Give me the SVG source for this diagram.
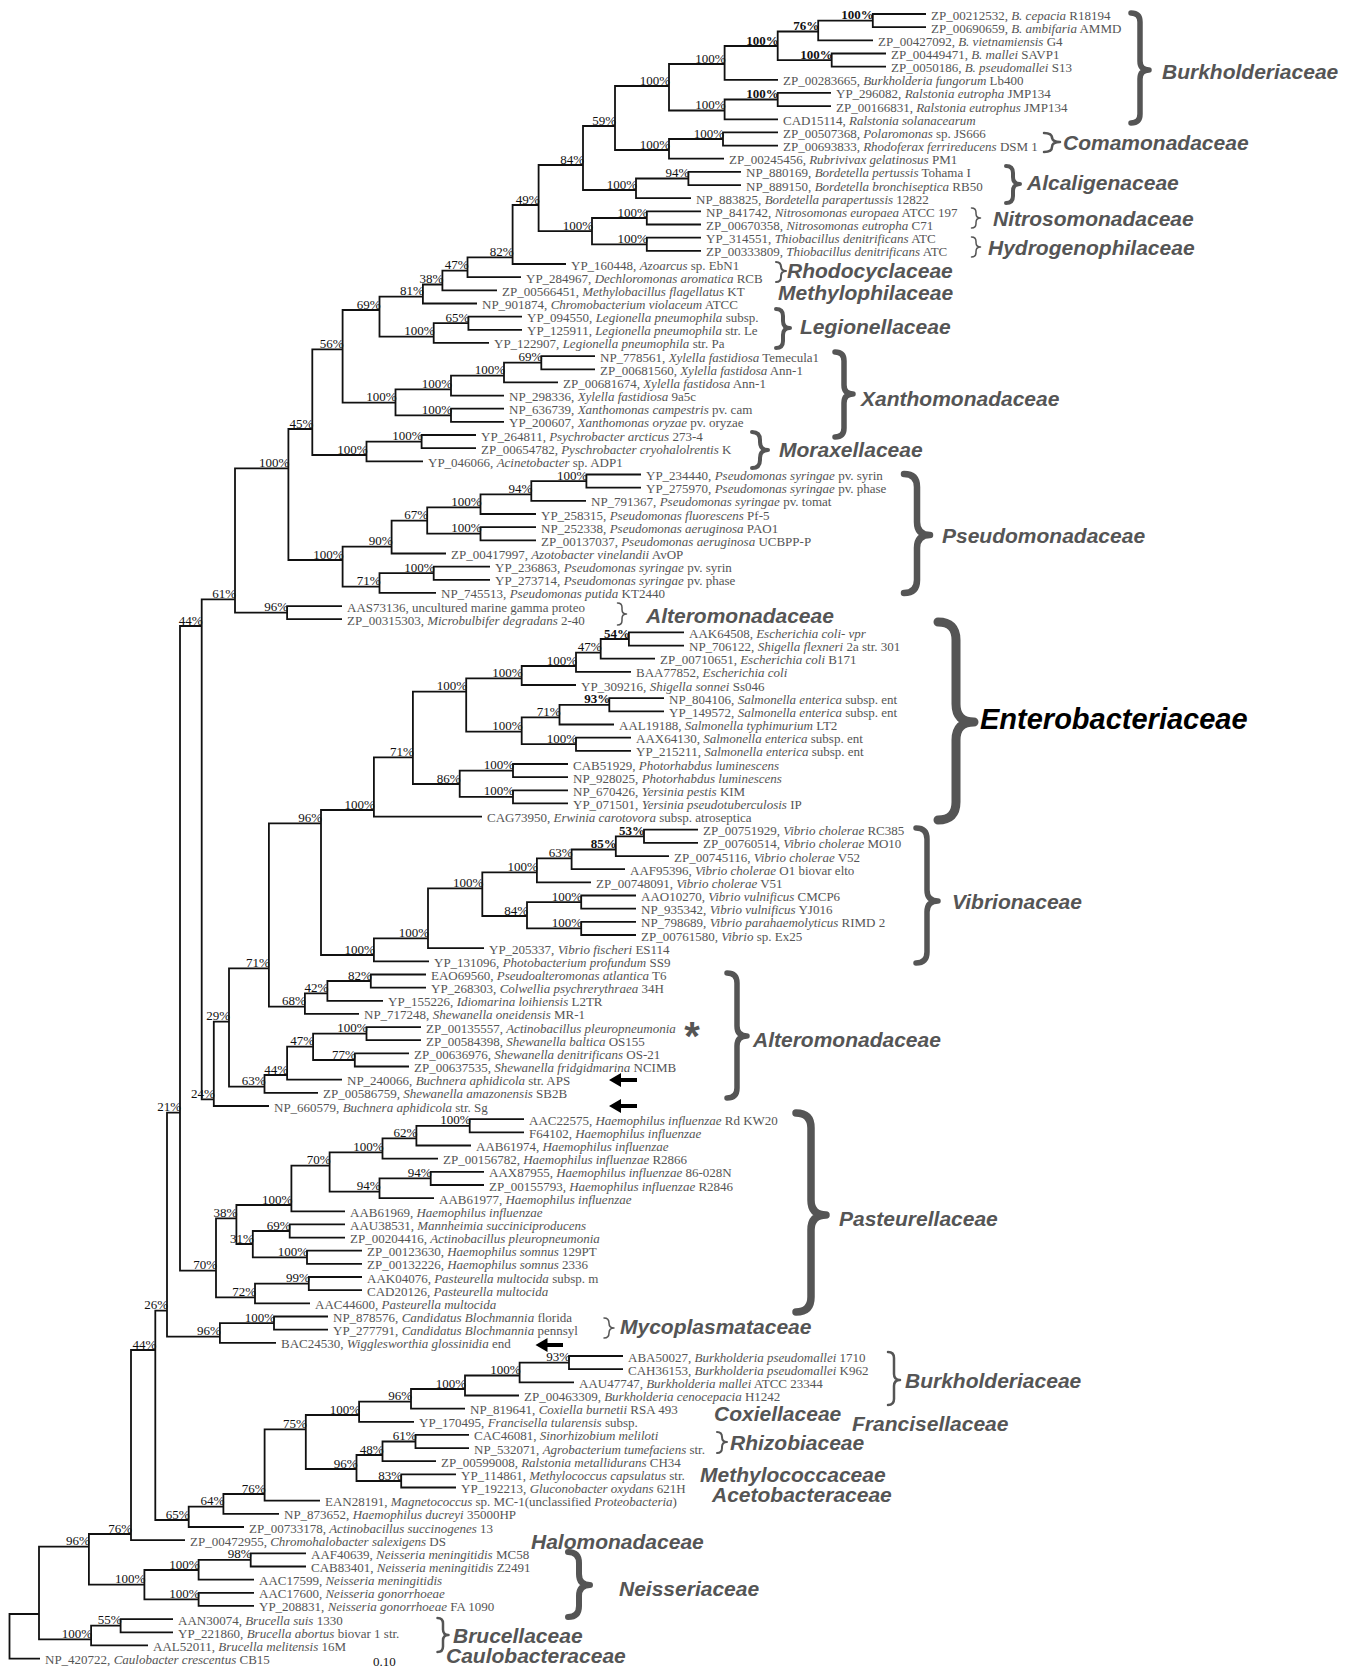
<svg xmlns="http://www.w3.org/2000/svg" width="1357" height="1669" viewBox="0 0 1357 1669">
<style>
.br{fill:none;stroke:#111;stroke-width:1.8}
.lf{font-family:"Liberation Serif","Times New Roman",serif;font-size:13px;fill:#555}
.bs{font-family:"Liberation Serif","Times New Roman",serif;font-size:13px;fill:#111;text-anchor:end}
.bb{font-weight:bold}
.fam{font-family:"Liberation Sans",Arial,sans-serif;font-weight:bold;font-style:italic;font-size:21px;fill:#555}
.brace{fill:none;stroke:#555;stroke-linecap:round;stroke-linejoin:round}
.arr{fill:#000}
</style>
<rect width="1357" height="1669" fill="#fff"/>
<g id="connectors">
<path class="br" d="M926 14 H872.8 V27.2 H926"/>
<path class="br" d="M872.8 20.6 H818.2 V40.3 H873"/>
<path class="br" d="M886 53.5 H831.7 V66.6 H886"/>
<path class="br" d="M818.2 31.5 H777.7 V60.1 H831.7"/>
<path class="br" d="M777.7 46 H724.6 V79.8 H778"/>
<path class="br" d="M831 92.9 H777.7 V106.1 H831"/>
<path class="br" d="M777.7 99.5 H724.6 V119.3 H778"/>
<path class="br" d="M724.6 64 H669 V110.5 H724.6"/>
<path class="br" d="M778 132.4 H723 V145.6 H778"/>
<path class="br" d="M723 139 H669 V158.7 H724"/>
<path class="br" d="M669 86 H615 V150 H669"/>
<path class="br" d="M741 171.9 H688.4 V185.1 H741"/>
<path class="br" d="M688.4 178.5 H636 V198.2 H691"/>
<path class="br" d="M615 126 H583 V190 H636"/>
<path class="br" d="M701 211.4 H646.8 V224.5 H701"/>
<path class="br" d="M701 237.7 H646.8 V250.8 H701"/>
<path class="br" d="M646.8 218 H592 V244.3 H646.8"/>
<path class="br" d="M583 165 H538.6 V231.2 H592"/>
<path class="br" d="M538.6 205 H512.6 V264 H566"/>
<path class="br" d="M512.6 257.3 H467.5 V277.2 H521"/>
<path class="br" d="M467.5 270.7 H442.4 V290.3 H497"/>
<path class="br" d="M442.4 284.5 H422.9 V303.5 H477"/>
<path class="br" d="M522 316.6 H468.4 V329.8 H522"/>
<path class="br" d="M468.4 323.2 H433.7 V342.9 H489"/>
<path class="br" d="M422.9 296.7 H379.5 V336.7 H433.7"/>
<path class="br" d="M595 356.1 H541.3 V369.3 H595"/>
<path class="br" d="M541.3 362.7 H504 V382.4 H558"/>
<path class="br" d="M504 375.7 H451 V395.6 H504"/>
<path class="br" d="M504 408.7 H451 V421.9 H504"/>
<path class="br" d="M451 389.3 H395.5 V415.3 H451"/>
<path class="br" d="M379.5 310 H342.6 V402.7 H395.5"/>
<path class="br" d="M476 435 H421.6 V448.2 H476"/>
<path class="br" d="M421.6 441.6 H366.5 V461.4 H423"/>
<path class="br" d="M342.6 349.3 H312.3 V455 H366.5"/>
<path class="br" d="M641 474.5 H586.4 V487.7 H641"/>
<path class="br" d="M586.4 481.1 H531.3 V500.8 H586"/>
<path class="br" d="M531.3 494.3 H480.5 V514 H536"/>
<path class="br" d="M536 527.1 H480.5 V540.3 H536"/>
<path class="br" d="M480.5 507.3 H427.2 V533.7 H480.5"/>
<path class="br" d="M427.2 520.7 H391.6 V553.5 H446"/>
<path class="br" d="M490 566.6 H433.7 V579.8 H490"/>
<path class="br" d="M433.7 573.2 H379.5 V592.9 H436"/>
<path class="br" d="M391.6 546.7 H342.6 V586.7 H379.5"/>
<path class="br" d="M312.3 429 H288.4 V560 H342.6"/>
<path class="br" d="M342 606.1 H287.1 V619.2 H342"/>
<path class="br" d="M288.4 468.3 H235 V612.7 H287.1"/>
<path class="br" d="M235 599.3 H201.7 V1099.3 H213.8"/>
<path class="br" d="M684 632.4 H628.9 V645.6 H684"/>
<path class="br" d="M628.9 639 H600.7 V658.7 H655"/>
<path class="br" d="M600.7 652.7 H576 V671.9 H631"/>
<path class="br" d="M576 666 H521.7 V685 H576"/>
<path class="br" d="M664 698.2 H609.3 V711.3 H664"/>
<path class="br" d="M609.3 704.8 H559.5 V724.5 H614"/>
<path class="br" d="M631 737.6 H576 V750.8 H631"/>
<path class="br" d="M559.5 717.3 H521.7 V744.2 H576"/>
<path class="br" d="M521.7 678.3 H466.2 V731.7 H521.7"/>
<path class="br" d="M568 764 H513 V777.1 H568"/>
<path class="br" d="M568 790.3 H513 V803.4 H568"/>
<path class="br" d="M513 770.6 H459.7 V796.9 H513"/>
<path class="br" d="M466.2 691.7 H412.9 V784 H459.7"/>
<path class="br" d="M412.9 757.3 H373.9 V816.6 H482"/>
<path class="br" d="M698 829.7 H644 V842.9 H698"/>
<path class="br" d="M644 836.3 H615.8 V856.1 H669"/>
<path class="br" d="M615.8 849.5 H571.6 V869.2 H625"/>
<path class="br" d="M571.6 858.3 H536.9 V882.4 H591"/>
<path class="br" d="M636 895.5 H581.2 V908.7 H636"/>
<path class="br" d="M636 921.8 H581.2 V935 H636"/>
<path class="br" d="M581.2 902.1 H527 V928.4 H581.2"/>
<path class="br" d="M536.9 872.3 H482.3 V916 H527"/>
<path class="br" d="M482.3 888.3 H428 V948.1 H484"/>
<path class="br" d="M428 938.3 H373.9 V961.3 H429"/>
<path class="br" d="M373.9 810 H321 V955 H373.9"/>
<path class="br" d="M426 974.5 H370.8 V987.6 H426"/>
<path class="br" d="M370.8 981 H327.4 V1000.8 H383"/>
<path class="br" d="M327.4 993.3 H304.9 V1013.9 H359"/>
<path class="br" d="M321 823.3 H268.9 V1006.7 H304.9"/>
<path class="br" d="M421 1027.1 H366.5 V1040.2 H421"/>
<path class="br" d="M409 1053.4 H354.8 V1066.5 H409"/>
<path class="br" d="M366.5 1033.7 H313.1 V1060 H354.8"/>
<path class="br" d="M313.1 1046.7 H287.1 V1079.7 H342"/>
<path class="br" d="M287.1 1075 H264.5 V1092.9 H318"/>
<path class="br" d="M268.9 968.3 H229 V1086.7 H264.5"/>
<path class="br" d="M229 1021.7 H213.8 V1106 H269"/>
<path class="br" d="M524 1119.2 H469.7 V1132.3 H524"/>
<path class="br" d="M469.7 1125.8 H416.4 V1145.5 H471"/>
<path class="br" d="M416.4 1138.3 H382.5 V1158.6 H438"/>
<path class="br" d="M484 1171.8 H430.7 V1185 H484"/>
<path class="br" d="M430.7 1178.4 H379.5 V1198.1 H434"/>
<path class="br" d="M382.5 1152.3 H329.6 V1191.7 H379.5"/>
<path class="br" d="M329.6 1165.7 H291.4 V1211.3 H345"/>
<path class="br" d="M345 1224.4 H289.7 V1237.6 H345"/>
<path class="br" d="M362 1250.7 H307 V1263.9 H362"/>
<path class="br" d="M289.7 1231 H252.8 V1257.3 H307"/>
<path class="br" d="M291.4 1205 H236.4 V1244 H252.8"/>
<path class="br" d="M362 1277 H308.8 V1290.2 H362"/>
<path class="br" d="M308.8 1283.6 H255 V1303.4 H310"/>
<path class="br" d="M236.4 1218.3 H216 V1297.3 H255"/>
<path class="br" d="M201.7 626 H180 V1270.7 H216"/>
<path class="br" d="M328 1316.5 H274 V1329.7 H328"/>
<path class="br" d="M274 1323.1 H219.9 V1342.8 H276"/>
<path class="br" d="M180 1112.7 H167 V1336.7 H219.9"/>
<path class="br" d="M623 1356 H569 V1369.1 H623"/>
<path class="br" d="M569 1362.6 H519.6 V1382.3 H574"/>
<path class="br" d="M519.6 1375.5 H465 V1395.5 H519"/>
<path class="br" d="M465 1389 H411 V1408.6 H465"/>
<path class="br" d="M411 1401.7 H359.1 V1421.8 H414"/>
<path class="br" d="M469 1434.9 H415.5 V1448.1 H469"/>
<path class="br" d="M415.5 1441.5 H382.5 V1461.2 H436"/>
<path class="br" d="M456 1474.4 H401.2 V1487.5 H456"/>
<path class="br" d="M382.5 1455 H356.5 V1481 H401.2"/>
<path class="br" d="M359.1 1415 H305.8 V1469 H356.5"/>
<path class="br" d="M305.8 1429.3 H264.6 V1500.7 H320"/>
<path class="br" d="M264.6 1494 H223.4 V1513.9 H279"/>
<path class="br" d="M223.4 1506.7 H188.7 V1527 H244"/>
<path class="br" d="M167 1310.7 H155.3 V1520 H188.7"/>
<path class="br" d="M155.3 1350 H131 V1540.2 H185"/>
<path class="br" d="M306 1553.3 H250.7 V1566.5 H306"/>
<path class="br" d="M250.7 1559.9 H198.6 V1579.6 H254"/>
<path class="br" d="M254 1592.8 H198.6 V1605.9 H254"/>
<path class="br" d="M198.6 1570 H144.4 V1599.4 H198.6"/>
<path class="br" d="M131 1534 H88.9 V1584.7 H144.4"/>
<path class="br" d="M173 1619.1 H120.6 V1632.3 H173"/>
<path class="br" d="M120.6 1625.7 H91.1 V1645.4 H148"/>
<path class="br" d="M88.9 1546.7 H39 V1639.3 H91.1"/>
<path class="br" d="M39 1614 H9.5 V1658.6 H40"/>
</g>
<g id="bootstrap">
<text class="bs bb" x="873.8" y="19.1">100%</text>
<text class="bs bb" x="819.2" y="30">76%</text>
<text class="bs bb" x="832.7" y="58.6">100%</text>
<text class="bs bb" x="778.7" y="44.5">100%</text>
<text class="bs" x="725.6" y="62.5">100%</text>
<text class="bs bb" x="778.7" y="98">100%</text>
<text class="bs" x="725.6" y="109">100%</text>
<text class="bs" x="670" y="84.5">100%</text>
<text class="bs" x="724" y="137.5">100%</text>
<text class="bs" x="670" y="148.5">100%</text>
<text class="bs" x="616" y="124.5">59%</text>
<text class="bs" x="689.4" y="177">94%</text>
<text class="bs" x="637" y="188.5">100%</text>
<text class="bs" x="584" y="163.5">84%</text>
<text class="bs" x="647.8" y="216.5">100%</text>
<text class="bs" x="647.8" y="242.8">100%</text>
<text class="bs" x="593" y="229.7">100%</text>
<text class="bs" x="539.6" y="203.5">49%</text>
<text class="bs" x="513.6" y="255.8">82%</text>
<text class="bs" x="468.5" y="269.2">47%</text>
<text class="bs" x="443.4" y="283">38%</text>
<text class="bs" x="423.9" y="295.2">81%</text>
<text class="bs" x="469.4" y="321.7">65%</text>
<text class="bs" x="434.7" y="335.2">100%</text>
<text class="bs" x="380.5" y="308.5">69%</text>
<text class="bs" x="542.3" y="361.2">69%</text>
<text class="bs" x="505" y="374.2">100%</text>
<text class="bs" x="452" y="387.8">100%</text>
<text class="bs" x="452" y="413.8">100%</text>
<text class="bs" x="396.5" y="401.2">100%</text>
<text class="bs" x="343.6" y="347.8">56%</text>
<text class="bs" x="422.6" y="440.1">100%</text>
<text class="bs" x="367.5" y="453.5">100%</text>
<text class="bs" x="313.3" y="427.5">45%</text>
<text class="bs" x="587.4" y="479.6">100%</text>
<text class="bs" x="532.3" y="492.8">94%</text>
<text class="bs" x="481.5" y="505.8">100%</text>
<text class="bs" x="481.5" y="532.2">100%</text>
<text class="bs" x="428.2" y="519.2">67%</text>
<text class="bs" x="392.6" y="545.2">90%</text>
<text class="bs" x="434.7" y="571.7">100%</text>
<text class="bs" x="380.5" y="585.2">71%</text>
<text class="bs" x="343.6" y="558.5">100%</text>
<text class="bs" x="289.4" y="466.8">100%</text>
<text class="bs" x="288.1" y="611.2">96%</text>
<text class="bs" x="236" y="597.8">61%</text>
<text class="bs" x="202.7" y="624.5">44%</text>
<text class="bs bb" x="629.9" y="637.5">54%</text>
<text class="bs" x="601.7" y="651.2">47%</text>
<text class="bs" x="577" y="664.5">100%</text>
<text class="bs" x="522.7" y="676.8">100%</text>
<text class="bs bb" x="610.3" y="703.3">93%</text>
<text class="bs" x="560.5" y="715.8">71%</text>
<text class="bs" x="577" y="742.7">100%</text>
<text class="bs" x="522.7" y="730.2">100%</text>
<text class="bs" x="467.2" y="690.2">100%</text>
<text class="bs" x="514" y="769.1">100%</text>
<text class="bs" x="514" y="795.4">100%</text>
<text class="bs" x="460.7" y="782.5">86%</text>
<text class="bs" x="413.9" y="755.8">71%</text>
<text class="bs" x="374.9" y="808.5">100%</text>
<text class="bs bb" x="645" y="834.8">53%</text>
<text class="bs bb" x="616.8" y="848">85%</text>
<text class="bs" x="572.6" y="856.8">63%</text>
<text class="bs" x="537.9" y="870.8">100%</text>
<text class="bs" x="582.2" y="900.6">100%</text>
<text class="bs" x="582.2" y="926.9">100%</text>
<text class="bs" x="528" y="914.5">84%</text>
<text class="bs" x="483.3" y="886.8">100%</text>
<text class="bs" x="429" y="936.8">100%</text>
<text class="bs" x="374.9" y="953.5">100%</text>
<text class="bs" x="322" y="821.8">96%</text>
<text class="bs" x="371.8" y="979.5">82%</text>
<text class="bs" x="328.4" y="991.8">42%</text>
<text class="bs" x="305.9" y="1005.2">68%</text>
<text class="bs" x="269.9" y="966.8">71%</text>
<text class="bs" x="367.5" y="1032.2">100%</text>
<text class="bs" x="355.8" y="1058.5">77%</text>
<text class="bs" x="314.1" y="1045.2">47%</text>
<text class="bs" x="288.1" y="1073.5">44%</text>
<text class="bs" x="265.5" y="1085.2">63%</text>
<text class="bs" x="230" y="1020.2">29%</text>
<text class="bs" x="214.8" y="1097.8">24%</text>
<text class="bs" x="470.7" y="1124.3">100%</text>
<text class="bs" x="417.4" y="1136.8">62%</text>
<text class="bs" x="383.5" y="1150.8">100%</text>
<text class="bs" x="431.7" y="1176.9">94%</text>
<text class="bs" x="380.5" y="1190.2">94%</text>
<text class="bs" x="330.6" y="1164.2">70%</text>
<text class="bs" x="292.4" y="1203.5">100%</text>
<text class="bs" x="290.7" y="1229.5">69%</text>
<text class="bs" x="308" y="1255.8">100%</text>
<text class="bs" x="253.8" y="1242.5">31%</text>
<text class="bs" x="237.4" y="1216.8">38%</text>
<text class="bs" x="309.8" y="1282.1">99%</text>
<text class="bs" x="256" y="1295.8">72%</text>
<text class="bs" x="217" y="1269.2">70%</text>
<text class="bs" x="181" y="1111.2">21%</text>
<text class="bs" x="275" y="1321.6">100%</text>
<text class="bs" x="220.9" y="1335.2">96%</text>
<text class="bs" x="168" y="1309.2">26%</text>
<text class="bs" x="570" y="1361.1">93%</text>
<text class="bs" x="520.6" y="1374">100%</text>
<text class="bs" x="466" y="1387.5">100%</text>
<text class="bs" x="412" y="1400.2">96%</text>
<text class="bs" x="360.1" y="1413.5">100%</text>
<text class="bs" x="416.5" y="1440">61%</text>
<text class="bs" x="383.5" y="1453.5">48%</text>
<text class="bs" x="402.2" y="1479.5">83%</text>
<text class="bs" x="357.5" y="1467.5">96%</text>
<text class="bs" x="306.8" y="1427.8">75%</text>
<text class="bs" x="265.6" y="1492.5">76%</text>
<text class="bs" x="224.4" y="1505.2">64%</text>
<text class="bs" x="189.7" y="1518.5">65%</text>
<text class="bs" x="156.3" y="1348.5">44%</text>
<text class="bs" x="132" y="1532.5">76%</text>
<text class="bs" x="251.7" y="1558.4">98%</text>
<text class="bs" x="199.6" y="1568.5">100%</text>
<text class="bs" x="199.6" y="1597.9">100%</text>
<text class="bs" x="145.4" y="1583.2">100%</text>
<text class="bs" x="89.9" y="1545.2">96%</text>
<text class="bs" x="121.6" y="1624.2">55%</text>
<text class="bs" x="92.1" y="1637.8">100%</text>
</g>
<g id="leaves">
<g id="leaf-1"><text class="lf" x="931" y="19.5">ZP_00212532, <tspan font-style="italic">B. cepacia</tspan> R18194</text></g>
<g id="leaf-2"><text class="lf" x="931" y="32.7">ZP_00690659, <tspan font-style="italic">B. ambifaria</tspan> AMMD</text></g>
<g id="leaf-3"><text class="lf" x="878" y="45.8">ZP_00427092, <tspan font-style="italic">B. vietnamiensis</tspan> G4</text></g>
<g id="leaf-4"><text class="lf" x="891" y="59">ZP_00449471, <tspan font-style="italic">B. mallei</tspan> SAVP1</text></g>
<g id="leaf-5"><text class="lf" x="891" y="72.1">ZP_0050186, <tspan font-style="italic">B. pseudomallei</tspan> S13</text></g>
<g id="leaf-6"><text class="lf" x="783" y="85.3">ZP_00283665, <tspan font-style="italic">Burkholderia fungorum</tspan> Lb400</text></g>
<g id="leaf-7"><text class="lf" x="836" y="98.4">YP_296082, <tspan font-style="italic">Ralstonia eutropha</tspan> JMP134</text></g>
<g id="leaf-8"><text class="lf" x="836" y="111.6">ZP_00166831, <tspan font-style="italic">Ralstonia eutrophus</tspan> JMP134</text></g>
<g id="leaf-9"><text class="lf" x="783" y="124.8">CAD15114, <tspan font-style="italic">Ralstonia solanacearum</tspan></text></g>
<g id="leaf-10"><text class="lf" x="783" y="137.9">ZP_00507368, <tspan font-style="italic">Polaromonas</tspan> sp. JS666</text></g>
<g id="leaf-11"><text class="lf" x="783" y="151.1">ZP_00693833, <tspan font-style="italic">Rhodoferax ferrireducens</tspan> DSM 1</text></g>
<g id="leaf-12"><text class="lf" x="729" y="164.2">ZP_00245456, <tspan font-style="italic">Rubrivivax gelatinosus</tspan> PM1</text></g>
<g id="leaf-13"><text class="lf" x="746" y="177.4">NP_880169, <tspan font-style="italic">Bordetella pertussis</tspan> Tohama I</text></g>
<g id="leaf-14"><text class="lf" x="746" y="190.6">NP_889150, <tspan font-style="italic">Bordetella bronchiseptica</tspan> RB50</text></g>
<g id="leaf-15"><text class="lf" x="696" y="203.7">NP_883825, <tspan font-style="italic">Bordetella parapertussis</tspan> 12822</text></g>
<g id="leaf-16"><text class="lf" x="706" y="216.9">NP_841742, <tspan font-style="italic">Nitrosomonas europaea</tspan> ATCC 197</text></g>
<g id="leaf-17"><text class="lf" x="706" y="230">ZP_00670358, <tspan font-style="italic">Nitrosomonas eutropha</tspan> C71</text></g>
<g id="leaf-18"><text class="lf" x="706" y="243.2">YP_314551, <tspan font-style="italic">Thiobacillus denitrificans</tspan> ATC</text></g>
<g id="leaf-19"><text class="lf" x="706" y="256.3">ZP_00333809, <tspan font-style="italic">Thiobacillus denitrificans</tspan> ATC</text></g>
<g id="leaf-20"><text class="lf" x="571" y="269.5">YP_160448, <tspan font-style="italic">Azoarcus</tspan> sp. EbN1</text></g>
<g id="leaf-21"><text class="lf" x="526" y="282.7">YP_284967, <tspan font-style="italic">Dechloromonas aromatica</tspan> RCB</text></g>
<g id="leaf-22"><text class="lf" x="502" y="295.8">ZP_00566451, <tspan font-style="italic">Methylobacillus flagellatus</tspan> KT</text></g>
<g id="leaf-23"><text class="lf" x="482" y="309">NP_901874, <tspan font-style="italic">Chromobacterium violaceum</tspan> ATCC</text></g>
<g id="leaf-24"><text class="lf" x="527" y="322.1">YP_094550, <tspan font-style="italic">Legionella pneumophila</tspan> subsp.</text></g>
<g id="leaf-25"><text class="lf" x="527" y="335.3">YP_125911, <tspan font-style="italic">Legionella pneumophila</tspan> str. Le</text></g>
<g id="leaf-26"><text class="lf" x="494" y="348.4">YP_122907, <tspan font-style="italic">Legionella pneumophila</tspan> str. Pa</text></g>
<g id="leaf-27"><text class="lf" x="600" y="361.6">NP_778561, <tspan font-style="italic">Xylella fastidiosa</tspan> Temecula1</text></g>
<g id="leaf-28"><text class="lf" x="600" y="374.8">ZP_00681560, <tspan font-style="italic">Xylella fastidosa</tspan> Ann-1</text></g>
<g id="leaf-29"><text class="lf" x="563" y="387.9">ZP_00681674, <tspan font-style="italic">Xylella fastidosa</tspan> Ann-1</text></g>
<g id="leaf-30"><text class="lf" x="509" y="401.1">NP_298336, <tspan font-style="italic">Xylella fastidiosa</tspan> 9a5c</text></g>
<g id="leaf-31"><text class="lf" x="509" y="414.2">NP_636739, <tspan font-style="italic">Xanthomonas campestris</tspan> pv. cam</text></g>
<g id="leaf-32"><text class="lf" x="509" y="427.4">YP_200607, <tspan font-style="italic">Xanthomonas oryzae</tspan> pv. oryzae</text></g>
<g id="leaf-33"><text class="lf" x="481" y="440.5">YP_264811, <tspan font-style="italic">Psychrobacter arcticus</tspan> 273-4</text></g>
<g id="leaf-34"><text class="lf" x="481" y="453.7">ZP_00654782, <tspan font-style="italic">Pyschrobacter cryohalolrentis</tspan> K</text></g>
<g id="leaf-35"><text class="lf" x="428" y="466.9">YP_046066, <tspan font-style="italic">Acinetobacter</tspan> sp. ADP1</text></g>
<g id="leaf-36"><text class="lf" x="646" y="480">YP_234440, <tspan font-style="italic">Pseudomonas syringae</tspan> pv. syrin</text></g>
<g id="leaf-37"><text class="lf" x="646" y="493.2">YP_275970, <tspan font-style="italic">Pseudomonas syringae</tspan> pv. phase</text></g>
<g id="leaf-38"><text class="lf" x="591" y="506.3">NP_791367, <tspan font-style="italic">Pseudomonas syringae</tspan> pv. tomat</text></g>
<g id="leaf-39"><text class="lf" x="541" y="519.5">YP_258315, <tspan font-style="italic">Pseudomonas fluorescens</tspan> Pf-5</text></g>
<g id="leaf-40"><text class="lf" x="541" y="532.6">NP_252338, <tspan font-style="italic">Pseudomonas aeruginosa</tspan> PAO1</text></g>
<g id="leaf-41"><text class="lf" x="541" y="545.8">ZP_00137037, <tspan font-style="italic">Pseudomonas aeruginosa</tspan> UCBPP-P</text></g>
<g id="leaf-42"><text class="lf" x="451" y="559">ZP_00417997, <tspan font-style="italic">Azotobacter vinelandii</tspan> AvOP</text></g>
<g id="leaf-43"><text class="lf" x="495" y="572.1">YP_236863, <tspan font-style="italic">Pseudomonas syringae</tspan> pv. syrin</text></g>
<g id="leaf-44"><text class="lf" x="495" y="585.3">YP_273714, <tspan font-style="italic">Pseudomonas syringae</tspan> pv. phase</text></g>
<g id="leaf-45"><text class="lf" x="441" y="598.4">NP_745513, <tspan font-style="italic">Pseudomonas putida</tspan> KT2440</text></g>
<g id="leaf-46"><text class="lf" x="347" y="611.6">AAS73136, uncultured marine gamma proteo</text></g>
<g id="leaf-47"><text class="lf" x="347" y="624.7">ZP_00315303, <tspan font-style="italic">Microbulbifer degradans</tspan> 2-40</text></g>
<g id="leaf-48"><text class="lf" x="689" y="637.9">AAK64508, <tspan font-style="italic">Escherichia coli- vpr</tspan></text></g>
<g id="leaf-49"><text class="lf" x="689" y="651.1">NP_706122, <tspan font-style="italic">Shigella flexneri</tspan> 2a str. 301</text></g>
<g id="leaf-50"><text class="lf" x="660" y="664.2">ZP_00710651, <tspan font-style="italic">Escherichia coli</tspan> B171</text></g>
<g id="leaf-51"><text class="lf" x="636" y="677.4">BAA77852, <tspan font-style="italic">Escherichia coli</tspan></text></g>
<g id="leaf-52"><text class="lf" x="581" y="690.5">YP_309216, <tspan font-style="italic">Shigella sonnei</tspan> Ss046</text></g>
<g id="leaf-53"><text class="lf" x="669" y="703.7">NP_804106, <tspan font-style="italic">Salmonella enterica</tspan> subsp. ent</text></g>
<g id="leaf-54"><text class="lf" x="669" y="716.8">YP_149572, <tspan font-style="italic">Salmonella enterica</tspan> subsp. ent</text></g>
<g id="leaf-55"><text class="lf" x="619" y="730">AAL19188, <tspan font-style="italic">Salmonella typhimurium</tspan> LT2</text></g>
<g id="leaf-56"><text class="lf" x="636" y="743.1">AAX64130, <tspan font-style="italic">Salmonella enterica</tspan> subsp. ent</text></g>
<g id="leaf-57"><text class="lf" x="636" y="756.3">YP_215211, <tspan font-style="italic">Salmonella enterica</tspan> subsp. ent</text></g>
<g id="leaf-58"><text class="lf" x="573" y="769.5">CAB51929, <tspan font-style="italic">Photorhabdus luminescens</tspan></text></g>
<g id="leaf-59"><text class="lf" x="573" y="782.6">NP_928025, <tspan font-style="italic">Photorhabdus luminescens</tspan></text></g>
<g id="leaf-60"><text class="lf" x="573" y="795.8">NP_670426, <tspan font-style="italic">Yersinia pestis</tspan> KIM</text></g>
<g id="leaf-61"><text class="lf" x="573" y="808.9">YP_071501, <tspan font-style="italic">Yersinia pseudotuberculosis</tspan> IP</text></g>
<g id="leaf-62"><text class="lf" x="487" y="822.1">CAG73950, <tspan font-style="italic">Erwinia carotovora</tspan> subsp. atroseptica</text></g>
<g id="leaf-63"><text class="lf" x="703" y="835.2">ZP_00751929, <tspan font-style="italic">Vibrio cholerae</tspan> RC385</text></g>
<g id="leaf-64"><text class="lf" x="703" y="848.4">ZP_00760514, <tspan font-style="italic">Vibrio cholerae</tspan> MO10</text></g>
<g id="leaf-65"><text class="lf" x="674" y="861.6">ZP_00745116, <tspan font-style="italic">Vibrio cholerae</tspan> V52</text></g>
<g id="leaf-66"><text class="lf" x="630" y="874.7">AAF95396, <tspan font-style="italic">Vibrio cholerae</tspan> O1 biovar elto</text></g>
<g id="leaf-67"><text class="lf" x="596" y="887.9">ZP_00748091, <tspan font-style="italic">Vibrio cholerae</tspan> V51</text></g>
<g id="leaf-68"><text class="lf" x="641" y="901">AAO10270, <tspan font-style="italic">Vibrio vulnificus</tspan> CMCP6</text></g>
<g id="leaf-69"><text class="lf" x="641" y="914.2">NP_935342, <tspan font-style="italic">Vibrio vulnificus</tspan> YJ016</text></g>
<g id="leaf-70"><text class="lf" x="641" y="927.3">NP_798689, <tspan font-style="italic">Vibrio parahaemolyticus</tspan> RIMD 2</text></g>
<g id="leaf-71"><text class="lf" x="641" y="940.5">ZP_00761580, <tspan font-style="italic">Vibrio</tspan> sp. Ex25</text></g>
<g id="leaf-72"><text class="lf" x="489" y="953.6">YP_205337, <tspan font-style="italic">Vibrio fischeri</tspan> ES114</text></g>
<g id="leaf-73"><text class="lf" x="434" y="966.8">YP_131096, <tspan font-style="italic">Photobacterium profundum</tspan> SS9</text></g>
<g id="leaf-74"><text class="lf" x="431" y="980">EAO69560, <tspan font-style="italic">Pseudoalteromonas atlantica</tspan> T6</text></g>
<g id="leaf-75"><text class="lf" x="431" y="993.1">YP_268303, <tspan font-style="italic">Colwellia psychrerythraea</tspan> 34H</text></g>
<g id="leaf-76"><text class="lf" x="388" y="1006.3">YP_155226, <tspan font-style="italic">Idiomarina loihiensis</tspan> L2TR</text></g>
<g id="leaf-77"><text class="lf" x="364" y="1019.4">NP_717248, <tspan font-style="italic">Shewanella oneidensis</tspan> MR-1</text></g>
<g id="leaf-78"><text class="lf" x="426" y="1032.6">ZP_00135557, <tspan font-style="italic">Actinobacillus pleuropneumonia</tspan></text></g>
<g id="leaf-79"><text class="lf" x="426" y="1045.7">ZP_00584398, <tspan font-style="italic">Shewanella baltica</tspan> OS155</text></g>
<g id="leaf-80"><text class="lf" x="414" y="1058.9">ZP_00636976, <tspan font-style="italic">Shewanella denitrificans</tspan> OS-21</text></g>
<g id="leaf-81"><text class="lf" x="414" y="1072">ZP_00637535, <tspan font-style="italic">Shewanella fridgidmarina</tspan> NCIMB</text></g>
<g id="leaf-82"><text class="lf" x="347" y="1085.2">NP_240066, <tspan font-style="italic">Buchnera aphidicola</tspan> str. APS</text></g>
<g id="leaf-83"><text class="lf" x="323" y="1098.4">ZP_00586759, <tspan font-style="italic">Shewanella amazonensis</tspan> SB2B</text></g>
<g id="leaf-84"><text class="lf" x="274" y="1111.5">NP_660579, <tspan font-style="italic">Buchnera aphidicola</tspan> str. Sg</text></g>
<g id="leaf-85"><text class="lf" x="529" y="1124.7">AAC22575, <tspan font-style="italic">Haemophilus influenzae</tspan> Rd KW20</text></g>
<g id="leaf-86"><text class="lf" x="529" y="1137.8">F64102, <tspan font-style="italic">Haemophilus influenzae</tspan></text></g>
<g id="leaf-87"><text class="lf" x="476" y="1151">AAB61974, <tspan font-style="italic">Haemophilus influenzae</tspan></text></g>
<g id="leaf-88"><text class="lf" x="443" y="1164.1">ZP_00156782, <tspan font-style="italic">Haemophilus influenzae</tspan> R2866</text></g>
<g id="leaf-89"><text class="lf" x="489" y="1177.3">AAX87955, <tspan font-style="italic">Haemophilus influenzae</tspan> 86-028N</text></g>
<g id="leaf-90"><text class="lf" x="489" y="1190.5">ZP_00155793, <tspan font-style="italic">Haemophilus influenzae</tspan> R2846</text></g>
<g id="leaf-91"><text class="lf" x="439" y="1203.6">AAB61977, <tspan font-style="italic">Haemophilus influenzae</tspan></text></g>
<g id="leaf-92"><text class="lf" x="350" y="1216.8">AAB61969, <tspan font-style="italic">Haemophilus influenzae</tspan></text></g>
<g id="leaf-93"><text class="lf" x="350" y="1229.9">AAU38531, <tspan font-style="italic">Mannheimia succiniciproducens</tspan></text></g>
<g id="leaf-94"><text class="lf" x="350" y="1243.1">ZP_00204416, <tspan font-style="italic">Actinobacillus pleuropneumonia</tspan></text></g>
<g id="leaf-95"><text class="lf" x="367" y="1256.2">ZP_00123630, <tspan font-style="italic">Haemophilus somnus</tspan> 129PT</text></g>
<g id="leaf-96"><text class="lf" x="367" y="1269.4">ZP_00132226, <tspan font-style="italic">Haemophilus somnus</tspan> 2336</text></g>
<g id="leaf-97"><text class="lf" x="367" y="1282.5">AAK04076, <tspan font-style="italic">Pasteurella multocida</tspan> subsp. m</text></g>
<g id="leaf-98"><text class="lf" x="367" y="1295.7">CAD20126, <tspan font-style="italic">Pasteurella multocida</tspan></text></g>
<g id="leaf-99"><text class="lf" x="315" y="1308.9">AAC44600, <tspan font-style="italic">Pasteurella multocida</tspan></text></g>
<g id="leaf-100"><text class="lf" x="333" y="1322">NP_878576, <tspan font-style="italic">Candidatus Blochmannia</tspan> florida</text></g>
<g id="leaf-101"><text class="lf" x="333" y="1335.2">YP_277791, <tspan font-style="italic">Candidatus Blochmannia</tspan> pennsyl</text></g>
<g id="leaf-102"><text class="lf" x="281" y="1348.3">BAC24530, <tspan font-style="italic">Wigglesworthia glossinidia</tspan> end</text></g>
<g id="leaf-103"><text class="lf" x="628" y="1361.5">ABA50027, <tspan font-style="italic">Burkholderia pseudomallei</tspan> 1710</text></g>
<g id="leaf-104"><text class="lf" x="628" y="1374.6">CAH36153, <tspan font-style="italic">Burkholderia pseudomallei</tspan> K962</text></g>
<g id="leaf-105"><text class="lf" x="579" y="1387.8">AAU47747, <tspan font-style="italic">Burkholderia mallei</tspan> ATCC 23344</text></g>
<g id="leaf-106"><text class="lf" x="524" y="1401">ZP_00463309, <tspan font-style="italic">Burkholderia cenocepacia</tspan> H1242</text></g>
<g id="leaf-107"><text class="lf" x="470" y="1414.1">NP_819641, <tspan font-style="italic">Coxiella burnetii</tspan> RSA 493</text></g>
<g id="leaf-108"><text class="lf" x="419" y="1427.3">YP_170495, <tspan font-style="italic">Francisella tularensis</tspan> subsp.</text></g>
<g id="leaf-109"><text class="lf" x="474" y="1440.4">CAC46081, <tspan font-style="italic">Sinorhizobium meliloti</tspan></text></g>
<g id="leaf-110"><text class="lf" x="474" y="1453.6">NP_532071, <tspan font-style="italic">Agrobacterium tumefaciens</tspan> str.</text></g>
<g id="leaf-111"><text class="lf" x="441" y="1466.7">ZP_00599008, <tspan font-style="italic">Ralstonia metallidurans</tspan> CH34</text></g>
<g id="leaf-112"><text class="lf" x="461" y="1479.9">YP_114861, <tspan font-style="italic">Methylococcus capsulatus</tspan> str.</text></g>
<g id="leaf-113"><text class="lf" x="461" y="1493">YP_192213, <tspan font-style="italic">Gluconobacter oxydans</tspan> 621H</text></g>
<g id="leaf-114"><text class="lf" x="325" y="1506.2">EAN28191, <tspan font-style="italic">Magnetococcus</tspan> sp. MC-1(unclassified <tspan font-style="italic">Proteobacteria</tspan>)</text></g>
<g id="leaf-115"><text class="lf" x="284" y="1519.4">NP_873652, <tspan font-style="italic">Haemophilus ducreyi</tspan> 35000HP</text></g>
<g id="leaf-116"><text class="lf" x="249" y="1532.5">ZP_00733178, <tspan font-style="italic">Actinobacillus succinogenes</tspan> 13</text></g>
<g id="leaf-117"><text class="lf" x="190" y="1545.7">ZP_00472955, <tspan font-style="italic">Chromohalobacter salexigens</tspan> DS</text></g>
<g id="leaf-118"><text class="lf" x="311" y="1558.8">AAF40639, <tspan font-style="italic">Neisseria meningitidis</tspan> MC58</text></g>
<g id="leaf-119"><text class="lf" x="311" y="1572">CAB83401, <tspan font-style="italic">Neisseria meningitidis</tspan> Z2491</text></g>
<g id="leaf-120"><text class="lf" x="259" y="1585.1">AAC17599, <tspan font-style="italic">Neisseria meningitidis</tspan></text></g>
<g id="leaf-121"><text class="lf" x="259" y="1598.3">AAC17600, <tspan font-style="italic">Neisseria gonorrhoeae</tspan></text></g>
<g id="leaf-122"><text class="lf" x="259" y="1611.4">YP_208831, <tspan font-style="italic">Neisseria gonorrhoeae</tspan> FA 1090</text></g>
<g id="leaf-123"><text class="lf" x="178" y="1624.6">AAN30074, <tspan font-style="italic">Brucella suis</tspan> 1330</text></g>
<g id="leaf-124"><text class="lf" x="178" y="1637.8">YP_221860, <tspan font-style="italic">Brucella abortus</tspan> biovar 1 str.</text></g>
<g id="leaf-125"><text class="lf" x="153" y="1650.9">AAL52011, <tspan font-style="italic">Brucella melitensis</tspan> 16M</text></g>
<g id="leaf-126"><text class="lf" x="45" y="1664.1">NP_420722, <tspan font-style="italic">Caulobacter crescentus</tspan> CB15</text></g>
</g>
<g id="braces">
<path class="brace" stroke-width="5.5" d="M1131 13 Q1140 13 1140 22 L1140 61 Q1140 70 1149 70 Q1140 70 1140 79 L1140 114 Q1140 123 1131 123"/>
<path class="brace" stroke-width="2.5" d="M1044 133 Q1052 133 1052 138 L1052 137 Q1052 142 1060 142 Q1052 142 1052 147 L1052 147 Q1052 152 1044 152"/>
<path class="brace" stroke-width="4" d="M1006 166 Q1013 166 1013 173 L1013 177 Q1013 184 1020 184 Q1013 184 1013 191 L1013 196 Q1013 203 1006 203"/>
<path class="brace" stroke-width="1.5" d="M971.5 208 Q976 208 976 212.5 L976 213.5 Q976 218 980.5 218 Q976 218 976 222.5 L976 223.5 Q976 228 971.5 228"/>
<path class="brace" stroke-width="1.5" d="M971.5 237 Q976 237 976 241.5 L976 242.5 Q976 247 980.5 247 Q976 247 976 251.5 L976 252.5 Q976 257 971.5 257"/>
<path class="brace" stroke-width="2" d="M776 262 Q781 262 781 267 L781 266 Q781 271 786 271 Q781 271 781 276 L781 277 Q781 282 776 282"/>
<path class="brace" stroke-width="4" d="M776 309 Q783 309 783 316 L783 321 Q783 328 790 328 Q783 328 783 335 L783 341 Q783 348 776 348"/>
<path class="brace" stroke-width="5.5" d="M835 352 Q844 352 844 361 L844 385 Q844 394 853 394 Q844 394 844 403 L844 428 Q844 437 835 437"/>
<path class="brace" stroke-width="4" d="M752 432 Q760 432 760 440 L760 442 Q760 450 768 450 Q760 450 760 458 L760 460 Q760 468 752 468"/>
<path class="brace" stroke-width="6.5" d="M904 474 Q917 474 917 487 L917 522 Q917 535 930 535 Q917 535 917 548 L917 580 Q917 593 904 593"/>
<path class="brace" stroke-width="1.5" d="M617.5 603 Q622 603 622 607.5 L622 609.5 Q622 614 626.5 614 Q622 614 622 618.5 L622 620.5 Q622 625 617.5 625"/>
<path class="brace" stroke-width="9" stroke="#000" d="M938 622 Q956 622 956 640 L956 704 Q956 722 974 722 Q956 722 956 740 L956 802 Q956 820 938 820"/>
<path class="brace" stroke-width="5.5" d="M916 828 Q927 828 927 839 L927 890 Q927 901 938 901 Q927 901 927 912 L927 952 Q927 963 916 963"/>
<path class="brace" stroke-width="5.5" d="M727 973 Q737 973 737 983 L737 1026 Q737 1036 747 1036 Q737 1036 737 1046 L737 1088 Q737 1098 727 1098"/>
<path class="brace" stroke-width="7.5" d="M796 1113 Q811 1113 811 1128 L811 1200 Q811 1215 826 1215 Q811 1215 811 1230 L811 1297 Q811 1312 796 1312"/>
<path class="brace" stroke-width="1.5" d="M604 1318 Q609 1318 609 1323 L609 1323 Q609 1328 614 1328 Q609 1328 609 1333 L609 1333 Q609 1338 604 1338"/>
<path class="brace" stroke-width="2.5" d="M888 1352 Q894 1352 894 1358 L894 1374 Q894 1380 900 1380 Q894 1380 894 1386 L894 1399 Q894 1405 888 1405"/>
<path class="brace" stroke-width="2" d="M717 1432 Q722 1432 722 1437 L722 1437 Q722 1442 727 1442 Q722 1442 722 1447 L722 1448 Q722 1453 717 1453"/>
<path class="brace" stroke-width="6" d="M568 1552 Q579 1552 579 1563 L579 1574 Q579 1585 590 1585 Q579 1585 579 1596 L579 1606 Q579 1617 568 1617"/>
<path class="brace" stroke-width="2.5" d="M437.5 1618 Q443 1618 443 1623.5 L443 1629.5 Q443 1635 448.5 1635 Q443 1635 443 1640.5 L443 1646.5 Q443 1652 437.5 1652"/>
</g>
<g id="families">
<text class="fam" x="1162" y="79">Burkholderiaceae</text>
<text class="fam" x="1063" y="150">Comamonadaceae</text>
<text class="fam" x="1027" y="190">Alcaligenaceae</text>
<text class="fam" x="993" y="226">Nitrosomonadaceae</text>
<text class="fam" x="988" y="255">Hydrogenophilaceae</text>
<text class="fam" x="787" y="278">Rhodocyclaceae</text>
<text class="fam" x="778" y="300">Methylophilaceae</text>
<text class="fam" x="800" y="334">Legionellaceae</text>
<text class="fam" x="861" y="406">Xanthomonadaceae</text>
<text class="fam" x="779" y="457">Moraxellaceae</text>
<text class="fam" x="942" y="543">Pseudomonadaceae</text>
<text class="fam" x="646" y="623">Alteromonadaceae</text>
<text class="fam" x="980" y="729" style="font-size:29px;fill:#000">Enterobacteriaceae</text>
<text class="fam" x="952" y="909">Vibrionaceae</text>
<text class="fam" x="753" y="1047">Alteromonadaceae</text>
<text class="fam" x="839" y="1226">Pasteurellaceae</text>
<text class="fam" x="620" y="1334">Mycoplasmataceae</text>
<text class="fam" x="905" y="1388">Burkholderiaceae</text>
<text class="fam" x="714" y="1421">Coxiellaceae</text>
<text class="fam" x="852" y="1431">Francisellaceae</text>
<text class="fam" x="730" y="1450">Rhizobiaceae</text>
<text class="fam" x="700" y="1482">Methylococcaceae</text>
<text class="fam" x="712" y="1502">Acetobacteraceae</text>
<text class="fam" x="531" y="1549">Halomonadaceae</text>
<text class="fam" x="619" y="1596">Neisseriaceae</text>
<text class="fam" x="453" y="1643">Brucellaceae</text>
<text class="fam" x="446" y="1663">Caulobacteraceae</text>
</g>
<g id="markers">
<text x="692" y="1050" text-anchor="middle" style="font-family:'Liberation Sans',Arial,sans-serif;font-size:40px;font-weight:bold;fill:#555">*</text>
<polygon class="arr" points="609,1080 621,1073 621,1078 637,1078 637,1082 621,1082 621,1087"/>
<polygon class="arr" points="609,1106 621,1099 621,1104 637,1104 637,1108 621,1108 621,1113"/>
<polygon class="arr" points="535.5,1345 547.5,1338 547.5,1343 563,1343 563,1347 547.5,1347 547.5,1352"/>
<text x="373" y="1666" style="font-family:'Liberation Serif',serif;font-size:13px;fill:#111">0.10</text>
</g>
</svg>
